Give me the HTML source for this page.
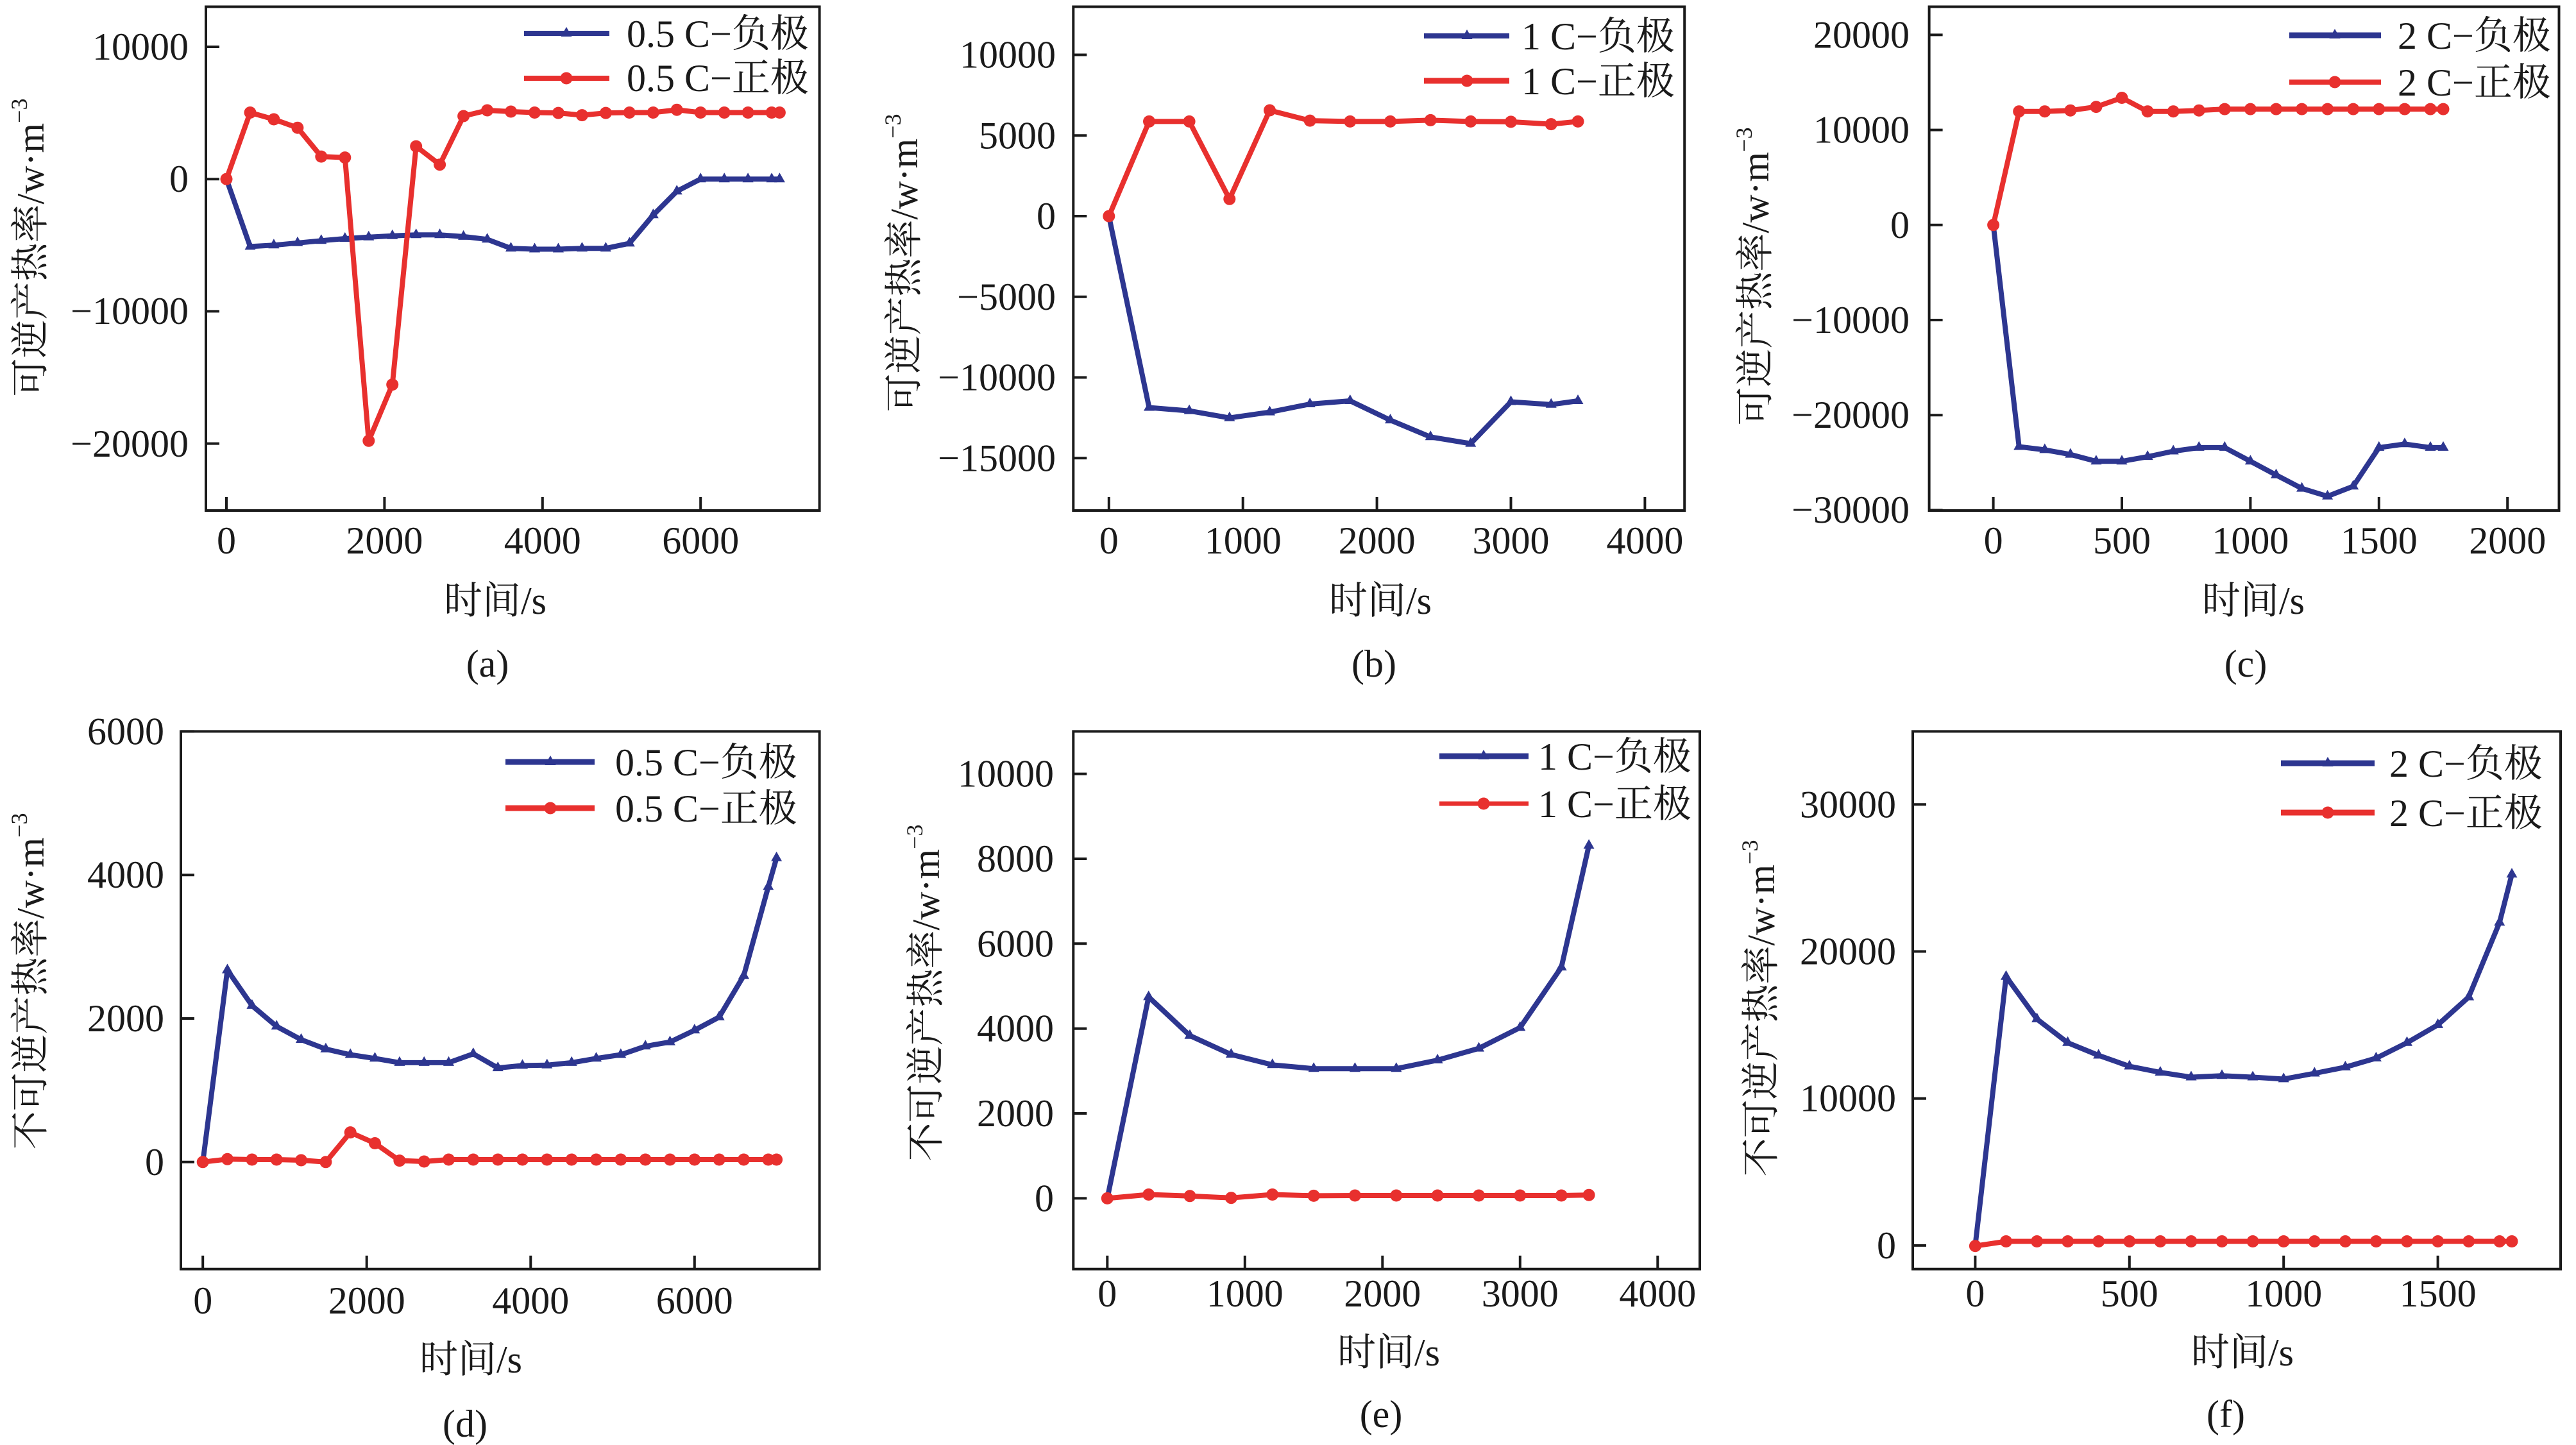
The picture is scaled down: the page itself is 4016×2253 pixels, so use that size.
<!DOCTYPE html>
<html>
<head>
<meta charset="utf-8">
<style>
  html,body{margin:0;padding:0;background:#fff;}
  svg{display:block;}
  text{font-family:"Liberation Serif","Noto Serif CJK SC",serif;fill:#1a1a1a;}
</style>
</head>
<body>
<svg width="4016" height="2253" viewBox="0 0 4016 2253" xmlns="http://www.w3.org/2000/svg">
<defs>
  <marker id="mt" markerUnits="userSpaceOnUse" markerWidth="24" markerHeight="24" refX="12" refY="12" viewBox="0 0 24 24" overflow="visible">
    <path d="M12,2 L20.5,17 L3.5,17 Z" fill="#2d3690"/>
  </marker>
  <marker id="mc" markerUnits="userSpaceOnUse" markerWidth="24" markerHeight="24" refX="12" refY="12" viewBox="0 0 24 24" overflow="visible">
    <circle cx="12" cy="12" r="9.5" fill="#e8302e"/>
  </marker>
</defs>

<g font-size="60">

<!-- ================= Panel (a) ================= -->
<g>
  <polyline fill="none" stroke="#2d3690" stroke-width="8" stroke-linejoin="round" marker-start="url(#mt)" marker-mid="url(#mt)" marker-end="url(#mt)"
    points="353,279.2 390,384.4 426.9,382.3 463.9,378.8 500.8,375.3 537.8,372 574.8,369.7 611.7,367.7 648.7,366.2 685.6,366.2 722.6,368.9 759.6,373.2 796.5,387.2 833.5,388.5 870.4,388.5 907.4,387.2 944.4,387.2 981.3,379.4 1018.3,335.3 1055.2,298.2 1092.2,279.2 1129.2,279.2 1166.1,279.2 1203.1,279.2 1215.4,279.2"/>
  <polyline fill="none" stroke="#e8302e" stroke-width="8" stroke-linejoin="round" marker-start="url(#mc)" marker-mid="url(#mc)" marker-end="url(#mc)"
    points="353,279.2 390,175.5 426.9,186 463.9,199.2 500.8,244.1 537.8,245.6 574.8,687.3 611.7,599.6 648.7,228.1 685.6,256.7 722.6,181 759.6,172 796.5,174 833.5,175.5 870.4,176.1 907.4,179.6 944.4,176.1 981.3,175.5 1018.3,175.5 1055.2,171.2 1092.2,175.5 1129.2,175.5 1166.1,175.5 1203.1,175.5 1215.4,175.5"/>
  <rect x="321" y="10.5" width="956.6" height="785.5" fill="none" stroke="#1a1a1a" stroke-width="4"/>
  <path stroke="#1a1a1a" stroke-width="4" fill="none"
    d="M353,796 v-21 M599.4,796 v-21 M845.8,796 v-21 M1092.2,796 v-21 M321,73 h21 M321,279.2 h21 M321,485.4 h21 M321,691.6 h21"/>
  <g text-anchor="middle">
    <text x="353" y="863">0</text><text x="599.4" y="863">2000</text><text x="845.8" y="863">4000</text><text x="1092.2" y="863">6000</text>
  </g>
  <g text-anchor="end">
    <text x="294" y="93">10000</text><text x="294" y="299">0</text><text x="294" y="505">−10000</text><text x="294" y="712">−20000</text>
  </g>
  <polyline fill="none" stroke="#2d3690" stroke-width="8" marker-mid="url(#mt)" points="817,52 883,52 950,52"/>
  <polyline fill="none" stroke="#e8302e" stroke-width="8" marker-mid="url(#mc)" points="817,122 883,122 950,122"/>
  <text x="977" y="73">0.5 C−负极</text>
  <text x="977" y="142">0.5 C−正极</text>
  <text x="772" y="957" text-anchor="middle">时间/s</text>
  <text x="760" y="1055" text-anchor="middle">(a)</text>
  <text transform="translate(68,386) rotate(-90)" text-anchor="middle">可逆产热率/w·m<tspan font-size="36" dy="-26">−3</tspan></text>
</g>

<!-- ================= Panel (b) ================= -->
<g>
  <polyline fill="none" stroke="#2d3690" stroke-width="8" stroke-linejoin="round" marker-start="url(#mt)" marker-mid="url(#mt)" marker-end="url(#mt)"
    points="1728.8,337 1791.5,635.5 1854.1,640.6 1916.8,651.6 1979.5,642.6 2042.2,630 2104.8,625 2167.5,655.1 2230.2,681.3 2292.8,691.6 2355.5,626.5 2418.2,630.8 2460,625"/>
  <polyline fill="none" stroke="#e8302e" stroke-width="8" stroke-linejoin="round" marker-start="url(#mc)" marker-mid="url(#mc)" marker-end="url(#mc)"
    points="1728.8,337 1791.5,189.4 1854.1,189.4 1916.8,310.3 1979.5,172 2042.2,188.1 2104.8,189.4 2167.5,189.4 2230.2,187.4 2292.8,189.4 2355.5,189.9 2418.2,193.6 2460,189.4"/>
  <rect x="1673.3" y="10.5" width="952.9" height="785.5" fill="none" stroke="#1a1a1a" stroke-width="4"/>
  <path stroke="#1a1a1a" stroke-width="4" fill="none"
    d="M1728.8,796 v-21 M1937.7,796 v-21 M2146.6,796 v-21 M2355.5,796 v-21 M2564.4,796 v-21 M1673.3,85.5 h21 M1673.3,211.3 h21 M1673.3,337 h21 M1673.3,462.8 h21 M1673.3,588.5 h21 M1673.3,714.3 h21"/>
  <g text-anchor="middle">
    <text x="1728.8" y="863">0</text><text x="1937.7" y="863">1000</text><text x="2146.6" y="863">2000</text><text x="2355.5" y="863">3000</text><text x="2564.4" y="863">4000</text>
  </g>
  <g text-anchor="end">
    <text x="1646" y="105.5">10000</text><text x="1646" y="231.3">5000</text><text x="1646" y="357">0</text><text x="1646" y="482.8">−5000</text><text x="1646" y="608.5">−10000</text><text x="1646" y="734.3">−15000</text>
  </g>
  <polyline fill="none" stroke="#2d3690" stroke-width="8" marker-mid="url(#mt)" points="2220,56 2287,56 2353,56"/>
  <polyline fill="none" stroke="#e8302e" stroke-width="9" marker-mid="url(#mc)" points="2220,126 2287,126 2353,126"/>
  <text x="2372" y="77">1 C−负极</text>
  <text x="2372" y="147">1 C−正极</text>
  <text x="2152" y="957" text-anchor="middle">时间/s</text>
  <text x="2142" y="1055" text-anchor="middle">(b)</text>
  <text transform="translate(1430,410) rotate(-90)" text-anchor="middle">可逆产热率/w·m<tspan font-size="36" dy="-26">−3</tspan></text>
</g>

<!-- ================= Panel (c) ================= -->
<g>
  <polyline fill="none" stroke="#2d3690" stroke-width="8" stroke-linejoin="round" marker-start="url(#mt)" marker-mid="url(#mt)" marker-end="url(#mt)"
    points="3107.6,350.8 3147.7,696.5 3187.8,701.4 3227.8,708.6 3267.9,719.2 3308,719.2 3348.1,712.1 3388.2,703.5 3428.2,697.9 3468.3,697.9 3508.4,719.2 3548.5,740.6 3588.6,761.6 3628.6,773.8 3668.7,758.2 3708.8,697.9 3748.9,692.3 3789,697.9 3809,697.9"/>
  <polyline fill="none" stroke="#e8302e" stroke-width="8" stroke-linejoin="round" marker-start="url(#mc)" marker-mid="url(#mc)" marker-end="url(#mc)"
    points="3107.6,350.8 3147.7,173.7 3187.8,173.7 3227.8,172.2 3267.9,166.6 3308,152.5 3348.1,173.7 3388.2,173.7 3428.2,172.2 3468.3,170.1 3508.4,170.1 3548.5,170.1 3588.6,170.1 3628.6,170.1 3668.7,170.1 3708.8,170.1 3748.9,170.1 3789,170.1 3809,170.1"/>
  <rect x="3007.6" y="10.5" width="981.9" height="785.5" fill="none" stroke="#1a1a1a" stroke-width="4"/>
  <path stroke="#1a1a1a" stroke-width="4" fill="none"
    d="M3107.6,796 v-21 M3308,796 v-21 M3508.4,796 v-21 M3708.8,796 v-21 M3909.2,796 v-21 M3007.6,54.4 h21 M3007.6,202.6 h21 M3007.6,350.8 h21 M3007.6,499 h21 M3007.6,647.2 h21 M3007.6,795.4 h21"/>
  <g text-anchor="middle">
    <text x="3107.6" y="863">0</text><text x="3308" y="863">500</text><text x="3508.4" y="863">1000</text><text x="3708.8" y="863">1500</text><text x="3909.2" y="863">2000</text>
  </g>
  <g text-anchor="end">
    <text x="2977" y="74.4">20000</text><text x="2977" y="222.6">10000</text><text x="2977" y="370.8">0</text><text x="2977" y="519">−10000</text><text x="2977" y="667.2">−20000</text><text x="2977" y="815">−30000</text>
  </g>
  <polyline fill="none" stroke="#2d3690" stroke-width="9" marker-mid="url(#mt)" points="3569,55 3640,55 3712,55"/>
  <polyline fill="none" stroke="#e8302e" stroke-width="8" marker-mid="url(#mc)" points="3569,128 3640,128 3712,128"/>
  <text x="3738" y="76">2 C−负极</text>
  <text x="3738" y="149">2 C−正极</text>
  <text x="3513" y="957" text-anchor="middle">时间/s</text>
  <text x="3501" y="1055" text-anchor="middle">(c)</text>
  <text transform="translate(2757,431) rotate(-90)" text-anchor="middle">可逆产热率/w·m<tspan font-size="36" dy="-26">−3</tspan></text>
</g>

<!-- ================= Panel (d) ================= -->
<g>
  <polyline fill="none" stroke="#2d3690" stroke-width="8" stroke-linejoin="round" marker-start="url(#mt)" marker-mid="url(#mt)" marker-end="url(#mt)"
    points="316.2,1811.8 354.5,1512.5 392.9,1567.9 431.2,1600.3 469.5,1621 507.9,1635.7 546.2,1644.5 584.5,1650.3 622.9,1656.9 661.2,1656.9 699.5,1656.9 737.8,1643.1 776.2,1665.1 814.5,1661.4 852.8,1660.7 891.2,1656.9 929.5,1650.3 967.8,1644.5 1006.2,1631.3 1044.5,1624.7 1082.8,1606.3 1121.2,1585.8 1159.5,1521.2 1197.8,1382.6 1210.6,1337.8"/>
  <polyline fill="none" stroke="#e8302e" stroke-width="8" stroke-linejoin="round" marker-start="url(#mc)" marker-mid="url(#mc)" marker-end="url(#mc)"
    points="316.2,1811.8 354.5,1807.3 392.9,1808 431.2,1808 469.5,1809 507.9,1811.8 546.2,1765.6 584.5,1782.5 622.9,1809.6 661.2,1811 699.5,1808 737.8,1808 776.2,1808 814.5,1808 852.8,1808 891.2,1808 929.5,1808 967.8,1808 1006.2,1808 1044.5,1808 1082.8,1808 1121.2,1808 1159.5,1808 1197.8,1808 1210.6,1808"/>
  <rect x="282" y="1140.4" width="995.6" height="838.3" fill="none" stroke="#1a1a1a" stroke-width="4"/>
  <path stroke="#1a1a1a" stroke-width="4" fill="none"
    d="M316.2,1978.7 v-21 M571.7,1978.7 v-21 M827.3,1978.7 v-21 M1082.8,1978.7 v-21 M282,1140.4 h21 M282,1364.2 h21 M282,1588 h21 M282,1811.8 h21"/>
  <g text-anchor="middle">
    <text x="316.2" y="2048">0</text><text x="571.7" y="2048">2000</text><text x="827.3" y="2048">4000</text><text x="1082.8" y="2048">6000</text>
  </g>
  <g text-anchor="end">
    <text x="256" y="1160.4">6000</text><text x="256" y="1384.2">4000</text><text x="256" y="1608">2000</text><text x="256" y="1831.8">0</text>
  </g>
  <polyline fill="none" stroke="#2d3690" stroke-width="9" marker-mid="url(#mt)" points="788,1188 858,1188 927,1188"/>
  <polyline fill="none" stroke="#e8302e" stroke-width="9" marker-mid="url(#mc)" points="788,1260 858,1260 927,1260"/>
  <text x="959" y="1209">0.5 C−负极</text>
  <text x="959" y="1281">0.5 C−正极</text>
  <text x="734" y="2140" text-anchor="middle">时间/s</text>
  <text x="725" y="2240" text-anchor="middle">(d)</text>
  <text transform="translate(68,1530) rotate(-90)" text-anchor="middle">不可逆产热率/w·m<tspan font-size="36" dy="-26">−3</tspan></text>
</g>

<!-- ================= Panel (e) ================= -->
<g>
  <polyline fill="none" stroke="#2d3690" stroke-width="8" stroke-linejoin="round" marker-start="url(#mt)" marker-mid="url(#mt)" marker-end="url(#mt)"
    points="1726.3,1868.4 1790.7,1554.4 1855,1614.7 1919.4,1644.1 1983.7,1660.3 2048.1,1666.2 2112.4,1666.2 2176.8,1666.2 2241.1,1653 2305.5,1634.6 2369.8,1602.2 2434.2,1508.1 2477.1,1318.4"/>
  <polyline fill="none" stroke="#e8302e" stroke-width="8" stroke-linejoin="round" marker-start="url(#mc)" marker-mid="url(#mc)" marker-end="url(#mc)"
    points="1726.3,1868.4 1790.7,1862.5 1855,1864.8 1919.4,1867.7 1983.7,1862.5 2048.1,1864.4 2112.4,1864 2176.8,1864 2241.1,1864 2305.5,1864 2369.8,1864 2434.2,1864 2477.1,1863.2"/>
  <rect x="1673.3" y="1140.4" width="976.7" height="838.3" fill="none" stroke="#1a1a1a" stroke-width="4"/>
  <path stroke="#1a1a1a" stroke-width="4" fill="none"
    d="M1726.3,1978.7 v-21 M1940.8,1978.7 v-21 M2155.3,1978.7 v-21 M2369.8,1978.7 v-21 M2584.3,1978.7 v-21 M1673.3,1206.6 h21 M1673.3,1339 h21 M1673.3,1471.3 h21 M1673.3,1603.7 h21 M1673.3,1736 h21 M1673.3,1868.4 h21"/>
  <g text-anchor="middle">
    <text x="1726.3" y="2037">0</text><text x="1940.8" y="2037">1000</text><text x="2155.3" y="2037">2000</text><text x="2369.8" y="2037">3000</text><text x="2584.3" y="2037">4000</text>
  </g>
  <g text-anchor="end">
    <text x="1643" y="1226.6">10000</text><text x="1643" y="1359">8000</text><text x="1643" y="1491.3">6000</text><text x="1643" y="1623.7">4000</text><text x="1643" y="1756">2000</text><text x="1643" y="1888.4">0</text>
  </g>
  <polyline fill="none" stroke="#2d3690" stroke-width="9" marker-mid="url(#mt)" points="2244,1179 2313,1179 2383,1179"/>
  <polyline fill="none" stroke="#e8302e" stroke-width="7" marker-mid="url(#mc)" points="2244,1253 2313,1253 2383,1253"/>
  <text x="2398" y="1200">1 C−负极</text>
  <text x="2398" y="1274">1 C−正极</text>
  <text x="2165" y="2129" text-anchor="middle">时间/s</text>
  <text x="2153" y="2225" text-anchor="middle">(e)</text>
  <text transform="translate(1464,1548) rotate(-90)" text-anchor="middle">不可逆产热率/w·m<tspan font-size="36" dy="-26">−3</tspan></text>
</g>

<!-- ================= Panel (f) ================= -->
<g>
  <polyline fill="none" stroke="#2d3690" stroke-width="8" stroke-linejoin="round" marker-start="url(#mt)" marker-mid="url(#mt)" marker-end="url(#mt)"
    points="3079.4,1941.9 3127.5,1522.7 3175.6,1588.9 3223.6,1625.8 3271.7,1645.5 3319.8,1662.5 3367.9,1672.1 3416,1679.5 3464,1677.2 3512.1,1679.5 3560.2,1682.4 3608.3,1673.5 3656.4,1663.9 3704.4,1649.9 3752.5,1625.8 3800.6,1597.9 3848.7,1554.6 3896.8,1438.3 3916,1363.2"/>
  <polyline fill="none" stroke="#e8302e" stroke-width="8" stroke-linejoin="round" marker-start="url(#mc)" marker-mid="url(#mc)" marker-end="url(#mc)"
    points="3079.4,1942.7 3127.5,1935.5 3175.6,1935.5 3223.6,1935.5 3271.7,1935.5 3319.8,1935.5 3367.9,1935.5 3416,1935.5 3464,1935.5 3512.1,1935.5 3560.2,1935.5 3608.3,1935.5 3656.4,1935.5 3704.4,1935.5 3752.5,1935.5 3800.6,1935.5 3848.7,1935.5 3896.8,1935.5 3916,1935.5"/>
  <rect x="2982" y="1140.4" width="1010" height="838.3" fill="none" stroke="#1a1a1a" stroke-width="4"/>
  <path stroke="#1a1a1a" stroke-width="4" fill="none"
    d="M3079.4,1978.7 v-21 M3319.8,1978.7 v-21 M3560.2,1978.7 v-21 M3800.6,1978.7 v-21 M2982,1254.3 h21 M2982,1483.5 h21 M2982,1712.7 h21 M2982,1941.9 h21"/>
  <g text-anchor="middle">
    <text x="3079.4" y="2037">0</text><text x="3319.8" y="2037">500</text><text x="3560.2" y="2037">1000</text><text x="3800.6" y="2037">1500</text>
  </g>
  <g text-anchor="end">
    <text x="2956" y="1274.3">30000</text><text x="2956" y="1503.5">20000</text><text x="2956" y="1732.7">10000</text><text x="2956" y="1961.9">0</text>
  </g>
  <polyline fill="none" stroke="#2d3690" stroke-width="9" marker-mid="url(#mt)" points="3556,1190 3629,1190 3702,1190"/>
  <polyline fill="none" stroke="#e8302e" stroke-width="9" marker-mid="url(#mc)" points="3556,1267 3629,1267 3702,1267"/>
  <text x="3725" y="1211">2 C−负极</text>
  <text x="3725" y="1288">2 C−正极</text>
  <text x="3496" y="2129" text-anchor="middle">时间/s</text>
  <text x="3470" y="2225" text-anchor="middle">(f)</text>
  <text transform="translate(2766,1572) rotate(-90)" text-anchor="middle">不可逆产热率/w·m<tspan font-size="36" dy="-26">−3</tspan></text>
</g>

</g>
</svg>
</body>
</html>
